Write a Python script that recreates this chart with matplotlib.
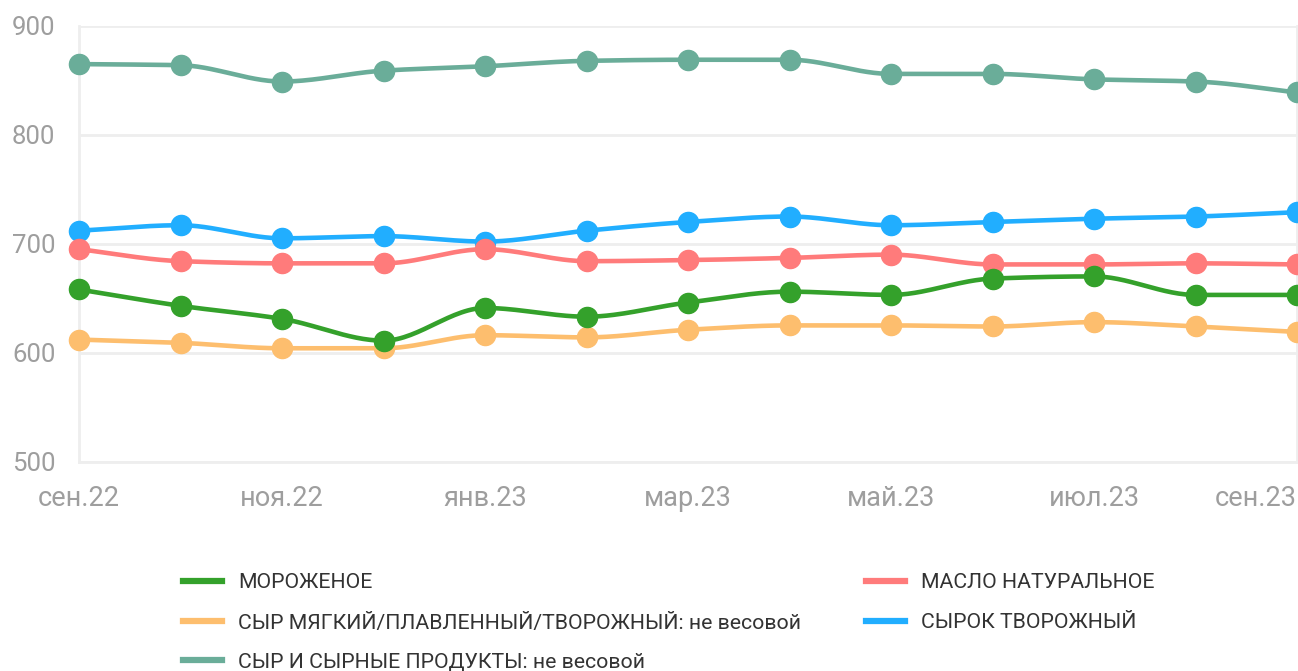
import numpy as np
import matplotlib
matplotlib.use("Agg")
import matplotlib.pyplot as plt
from matplotlib.lines import Line2D

plt.rcParams['font.family'] = ['Roboto', 'DejaVu Sans']

months = ["сен.22", "окт.22", "ноя.22", "дек.22", "янв.23", "фев.23", "мар.23",
          "апр.23", "май.23", "июн.23", "июл.23", "авг.23", "сен.23"]

ice_cream = [658, 643, 631, 611, 641, 633, 646, 656, 653, 668, 670, 653, 653]
butter = [695, 684, 682, 682, 695, 684, 685, 687, 690, 681, 681, 682, 681]
soft_cheese = [612, 609, 604, 604, 616, 614, 621, 625, 625, 624, 628, 624, 619]
curd_snack = [712, 717, 705, 707, 702, 712, 720, 725, 717, 720, 723, 725, 729]
cheese = [865, 864, 849, 859, 863, 868, 869, 869, 856, 856, 851, 849, 839]

series = [
    ("МОРОЖЕНОЕ", ice_cream, "#34a12b"),
    ("МАСЛО НАТУРАЛЬНОЕ", butter, "#ff7b7b"),
    ("СЫР МЯГКИЙ/ПЛАВЛЕННЫЙ/ТВОРОЖНЫЙ: не весовой", soft_cheese, "#fdbe6e"),
    ("СЫРОК ТВОРОЖНЫЙ", curd_snack, "#21aeff"),
    ("СЫР И СЫРНЫЕ ПРОДУКТЫ: не весовой", cheese, "#6aad99"),
]


# monotone cubic (Fritsch-Carlson) for the smooth line
def monotone(x, y, n=30):
    x = np.asarray(x, float)
    y = np.asarray(y, float)
    h = np.diff(x)
    d = np.diff(y) / h
    m = np.zeros_like(y)
    m[0], m[-1] = d[0], d[-1]
    for i in range(1, len(y) - 1):
        if d[i - 1] * d[i] <= 0:
            m[i] = 0
        else:
            m[i] = 2 / (1 / d[i - 1] + 1 / d[i])
    xs, ys = [], []
    for i in range(len(x) - 1):
        t = np.linspace(0, 1, n, endpoint=False)
        h00 = 2 * t**3 - 3 * t**2 + 1
        h10 = t**3 - 2 * t**2 + t
        h01 = -2 * t**3 + 3 * t**2
        h11 = t**3 - t**2
        xs.append(x[i] + t * h[i])
        ys.append(h00 * y[i] + h10 * h[i] * m[i] + h01 * y[i + 1] + h11 * h[i] * m[i + 1])
    xs.append([x[-1]])
    ys.append([y[-1]])
    return np.concatenate(xs), np.concatenate(ys)


fig = plt.figure(figsize=(12.98, 6.71), dpi=100)
ax = fig.add_axes([79 / 1298, 1 - 461.5 / 671, (1297 - 79) / 1298, (461.5 - 26) / 671])

x = np.arange(len(months))
grid_c = "#eeeeee"

for name, vals, col in series[::-1]:
    sx, sy = monotone(x, vals)
    ax.plot(sx, sy, color=col, lw=3.3, solid_capstyle='round', zorder=3)
    ax.plot(x, vals, 'o', color=col, ms=14.5, zorder=4, clip_on=False)

ax.set_xlim(0, 12)
ax.set_ylim(500, 900)
ax.set_yticks([500, 600, 700, 800, 900])
ax.grid(axis='y', color=grid_c, lw=2)
ax.set_axisbelow(True)
ax.spines['top'].set_visible(False)
for s in ['left', 'bottom', 'right']:
    ax.spines[s].set_color(grid_c)
    ax.spines[s].set_linewidth(2)

ax.set_xticks(x[::2])
ax.set_xticklabels(months[::2])
ax.get_xticklabels()[-1].set_horizontalalignment('right')
ax.tick_params(axis='both', length=0, labelcolor="#9e9e9e")
ax.tick_params(axis='x', pad=17, labelsize=19.5)
ax.tick_params(axis='y', pad=17, labelsize=18.5)

# legend, two columns
pos = [(183, 583), (866, 583), (183, 623), (866, 623), (183, 662)]
for (name, vals, col), (px, py) in zip(series, pos):
    fy = 1 - py / 671
    fig.add_artist(Line2D([px / 1298, (px + 39) / 1298], [fy + 2 / 671, fy + 2 / 671], color=col, lw=4.5))
    fig.text((px + 55) / 1298, fy, name, fontsize=15.3, color="#333333", va='center', ha='left')

fig.savefig("out.png", dpi=100)
